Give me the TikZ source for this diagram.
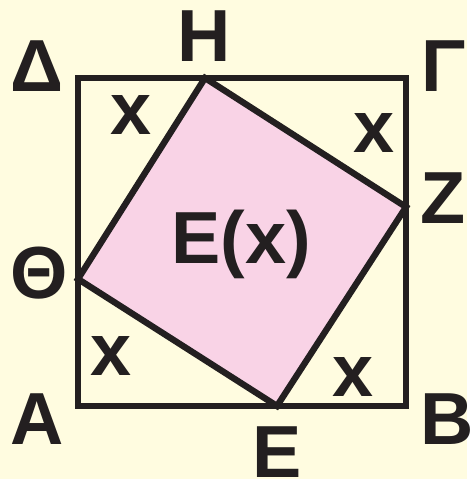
\documentclass[tikz,border=0pt]{standalone}
\usepackage{fontspec}
\setmainfont{Liberation Sans}
\usetikzlibrary{positioning}
\definecolor{sqbg}{RGB}{255,252,224}
\definecolor{sqpink}{RGB}{249,211,230}
\definecolor{sqline}{RGB}{35,31,32}

\begin{document}
\begin{tikzpicture}[x=0.02cm,y=-0.02cm,
  lbl/.style={text=sqline,anchor=base,inner sep=0pt,
              font=\fontsize{42}{42}\selectfont\bfseries},
  edge/.style={draw=sqline,line width=3.6pt,line join=miter}
]
  \fill[sqbg] (0,0) rectangle (467,479);
  % square and inner square
  \coordinate (A) at (78,406);
  \coordinate (B) at (406,406);
  \coordinate (G) at (406,78);
  \coordinate (D) at (78,78);
  \coordinate (H) at (205,78);
  \coordinate (Z) at (406,207);
  \coordinate (E) at (277,406);
  \coordinate (T) at (78,279);
  \filldraw[fill=sqpink,edge] (H) -- (Z) -- (E) -- (T) -- cycle;
  \draw[edge] (A) -- (B) -- (G) -- (D) -- cycle;
  % vertex labels
  \node[lbl] (lD) at (37,92)  {Δ};
  \node[lbl] (lH) at (204,62) {H};
  \node[lbl] (lG) at (444,92) {Γ};
  \node[lbl] (lZ) at (443,223) {Z};
  \node[lbl] (lT) at (39,298) {Θ};
  \node[lbl] (lA) at (37,444) {A};
  \node[lbl] (lB) at (447,444) {B};
  \node[lbl] (lE) at (277,477) {E};
  % the four x's and the area
  \node[lbl] (x1) at (131,135) {x};
  \node[lbl] (x2) at (374,153) {x};
  \node[lbl] (x3) at (111,375) {x};
  \node[lbl] (x4) at (353,396) {x};
  \node[lbl] (area) at (241,263) {E(x)};
\end{tikzpicture}
\end{document}
